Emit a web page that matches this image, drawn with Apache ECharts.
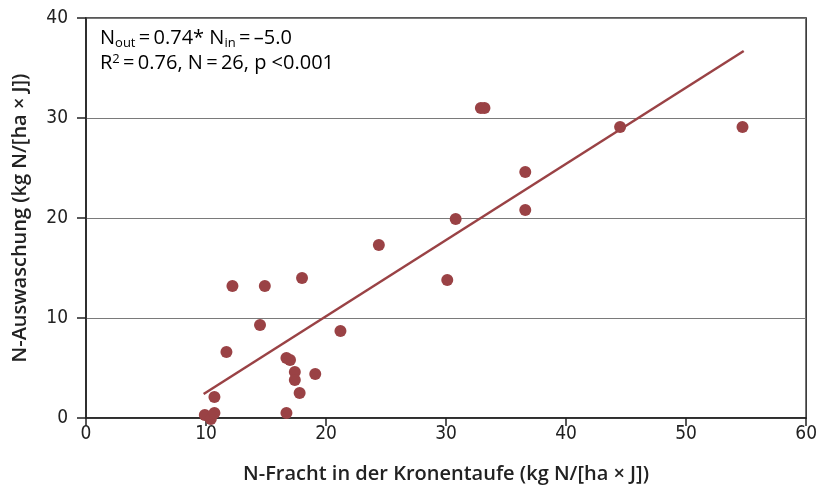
<!DOCTYPE html>
<html><head><meta charset="utf-8">
<script src="https://cdn.jsdelivr.net/npm/echarts@6/dist/echarts.min.js"></script>
<style>html,body{margin:0;padding:0;background:#fff}#c{width:820px;height:495px}</style>
</head><body><div id="c"></div>
<script>
const xValues = [9.9,10.4,10.7,10.7,11.7,12.2,14.5,14.9,16.7,16.7,17.0,17.4,17.4,17.8,18.0,19.1,21.2,24.4,30.1,30.8,32.9,33.2,36.6,36.6,44.5,54.7];
const yValues = [0.3,-0.1,2.1,0.5,6.6,13.2,9.3,13.2,0.5,6.0,5.8,4.6,3.8,2.5,14.0,4.4,8.7,17.3,13.8,19.9,31.0,31.0,24.6,20.8,29.1,29.1];
const fitX = [9.8, 54.8];
const fitY = [2.4, 36.7];
const xTicks = [0,10,20,30,40,50,60];
const yTicks = [0,10,20,30,40];

const col = '#9a4245';
const font = '"Open Sans", "Noto Sans", sans-serif';
const cond = '"DejaVu Sans Condensed", "Liberation Sans Narrow", sans-serif';
const sp = '\u2009';
const chart = echarts.init(document.getElementById('c'), null, {renderer:'canvas'});
chart.setOption({
  animation:false,
  grid:{left:86,right:12,top:18,bottom:77,show:true,borderColor:'#222',borderWidth:1.5,backgroundColor:'transparent'},
  xAxis:{type:'value',min:0,max:60,interval:10,
    name:'N-Fracht in der Kronentaufe (kg N/[ha × J])',nameLocation:'middle',nameGap:46,
    nameTextStyle:{fontFamily:font,fontSize:20,fontWeight:600,color:'#222'},
    axisLine:{lineStyle:{color:'#222',width:1.5}},
    axisTick:{length:8,lineStyle:{color:'#222',width:1.5}},
    axisLabel:{fontFamily:cond,fontSize:19,color:'#222',margin:7},
    splitLine:{show:false}},
  yAxis:{type:'value',min:0,max:40,interval:10,
    name:'N-Auswaschung (kg N/[ha × J])',nameLocation:'middle',nameGap:56,
    nameTextStyle:{fontFamily:font,fontSize:20,fontWeight:600,color:'#222'},
    axisLine:{lineStyle:{color:'#222',width:1.5}},
    axisTick:{length:9,lineStyle:{color:'#222',width:1.5}},
    axisLabel:{fontFamily:cond,fontSize:19,color:'#222',margin:18},
    splitLine:{show:true,lineStyle:{color:'#7a7a7a',width:1.2}}},
  series:[
    {type:'line',data:fitX.map((x,i)=>[x,fitY[i]]),symbol:'none',lineStyle:{color:col,width:2.5},z:2},
    {type:'scatter',clip:false,data:xValues.map((x,i)=>[x,yValues[i]]),symbolSize:12,itemStyle:{color:col,opacity:1},z:3}
  ],
  graphic:[{type:'text',left:100,top:27,z:10,style:{
    rich:{
      m:{fontFamily:font,fontSize:20,color:'#222',lineHeight:25},
      s:{fontFamily:font,fontSize:13,color:'#222',lineHeight:25,padding:[10,0,0,0]},
      p:{fontFamily:font,fontSize:13,color:'#222',lineHeight:25,padding:[0,0,8,0]}
    },
    text:'{m|N}{s|out}{m|'+sp+'='+sp+'0.74* N}{s|in}{m|'+sp+'='+sp+'–5.0}\n{m|R}{p|2}{m|'+sp+'='+sp+'0.76, N'+sp+'='+sp+'26, p <0.001}'
  }}]
});
</script></body></html>
